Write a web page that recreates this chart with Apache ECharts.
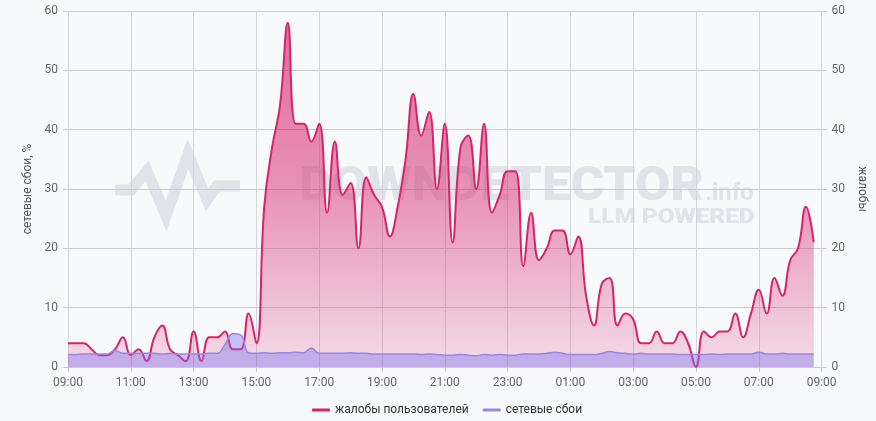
<!DOCTYPE html>
<html>
<head>
<meta charset="utf-8">
<script src="https://cdn.jsdelivr.net/npm/echarts@6/dist/echarts.min.js"></script>
<style>
html,body{margin:0;padding:0;background:#f8f9fb;}
#c{width:876px;height:421px;}
</style>
</head>
<body>
<div id="c"></div>
<script>
// 15-minute time slots from 09:00 to 09:00 next day
const timeLabels = [];
for (let i = 0; i <= 96; i++) {
  const m = (9 * 60 + i * 15) % (24 * 60);
  timeLabels.push(String(Math.floor(m / 60)).padStart(2, '0') + ':' + String(m % 60).padStart(2, '0'));
}
const yTicks = [0, 10, 20, 30, 40, 50, 60];
const seriesNames = ['жалобы пользователей', 'сетевые сбои'];

// жалобы пользователей (user complaints), 09:00 .. 08:45
const complaints = [
  4, 4, 4, 3, 2, 2, 3, 5, 2, 3, 1, 5, 7, 3, 2, 1,
  6, 1, 5, 5, 6, 3, 3, 9, 4, 27, 37, 44, 58, 41, 41, 38,
  41, 26, 38, 29, 31, 20, 32, 29, 27, 22, 27, 35, 46, 39, 43, 30,
  41, 21, 37, 39, 30, 41, 26, 29, 33, 33, 17, 26, 18, 20, 23, 23,
  19, 22, 12, 7, 14, 15, 7, 9, 8, 4, 4, 6, 4, 4, 6, 4,
  0, 6, 5, 6, 6, 9, 5, 9, 13, 9, 15, 12, 18, 20, 27, 21
];
// сетевые сбои (network failures, %)
const outages = [
  2.1, 2.1, 2.2, 2.2, 2.2, 2.2, 2.8, 2.3, 2.3, 2.3, 2.3, 2.3, 2.2, 2.3, 2.2, 2.2,
  2.2, 2.2, 2.3, 2.3, 3.8, 5.6, 5.4, 2.4, 2.3, 2.4, 2.3, 2.4, 2.4, 2.5, 2.4, 3.2,
  2.3, 2.3, 2.3, 2.3, 2.4, 2.3, 2.3, 2.2, 2.2, 2.2, 2.2, 2.2, 2.2, 2.1, 2.2, 2.1,
  2.0, 2.0, 2.1, 2.0, 1.9, 2.1, 2.0, 2.1, 2.0, 2.0, 2.2, 2.2, 2.2, 2.3, 2.5, 2.3,
  2.1, 2.1, 2.1, 2.1, 2.3, 2.6, 2.4, 2.3, 2.2, 2.3, 2.2, 2.2, 2.2, 2.2, 2.1, 2.1,
  2.1, 2.1, 2.2, 2.1, 2.2, 2.2, 2.2, 2.2, 2.5, 2.2, 2.2, 2.3, 2.2, 2.2, 2.2, 2.2
];

const PINK = '#d6246a';
const PURPLE = '#9a84e6';
const WM = '#e1e3e8';

const chart = echarts.init(document.getElementById('c'));
chart.setOption({
  backgroundColor: '#f8f9fb',
  animation: false,
  textStyle: { fontFamily: 'Roboto, "DejaVu Sans", sans-serif' },
  graphic: [
    {
      type: 'polyline', z: -10, silent: true,
      shape: { points: [[115,190],[131,190],[147,171],[166,216],[188,154],[207,200],[217,186],[240,186]] },
      style: { stroke: WM, lineWidth: 11, fill: null, lineJoin: 'miter' }
    },
    {
      type: 'text', z: -10, silent: true, x: 299, y: 164, scaleX: 1.065,
      style: { text: 'DOWNDETECTOR', fill: WM, font: '900 48px Roboto, sans-serif' }
    },
    {
      type: 'text', z: -10, silent: true, x: 705, y: 182,
      style: { text: '.info', fill: WM, font: 'bold 24px Roboto, sans-serif' }
    },
    {
      type: 'text', z: -10, silent: true, x: 588, y: 207, scaleX: 1.16,
      style: { text: 'LLM POWERED', fill: WM, font: '900 21px Roboto, sans-serif' }
    }
  ],
  legend: {
    bottom: 0,
    left: 307,
    itemWidth: 18,
    itemHeight: 3,
    itemGap: 14,
    icon: 'roundRect',
    textStyle: { color: '#333', fontSize: 12 },
    data: [
      { name: seriesNames[0], itemStyle: { color: PINK } },
      { name: seriesNames[1], itemStyle: { color: PURPLE } }
    ]
  },
  grid: { left: 68, right: 52, top: 11, bottom: 54, containLabel: false },
  xAxis: {
    type: 'category',
    data: timeLabels,
    boundaryGap: false,
    axisLine: { lineStyle: { color: '#c8cad0' } },
    axisTick: { interval: 7, length: 5, lineStyle: { color: '#c8cad0' } },
    axisLabel: { interval: 7, color: '#666', fontSize: 12, margin: 10 },
    splitLine: { show: true, interval: 7, lineStyle: { color: '#d3d5da' } }
  },
  yAxis: [
    {
      type: 'value', min: 0, max: 60, interval: 10, position: 'left',
      name: 'сетевые сбои, %', nameLocation: 'middle', nameGap: 34, nameRotate: 90,
      nameTextStyle: { color: '#555', fontSize: 12 },
      axisLine: { show: false },
      axisTick: { show: true, length: 5, lineStyle: { color: '#c8cad0' } },
      axisLabel: { color: '#666', fontSize: 12, margin: 10, formatter: v => yTicks.includes(v) ? String(v) : '' },
      splitLine: { lineStyle: { color: '#c8cad0' } }
    },
    {
      type: 'value', min: 0, max: 60, interval: 10, position: 'right',
      name: 'жалобы', nameLocation: 'middle', nameGap: 30, nameRotate: -90,
      nameTextStyle: { color: '#555', fontSize: 12 },
      axisLine: { show: false },
      axisTick: { show: true, length: 5, lineStyle: { color: '#c8cad0' } },
      axisLabel: { color: '#666', fontSize: 12, margin: 10 },
      splitLine: { show: false }
    }
  ],
  series: [
    {
      name: seriesNames[0],
      type: 'line',
      yAxisIndex: 1,
      data: complaints,
      smooth: 0.45,
      symbol: 'none',
      lineStyle: { color: PINK, width: 2 },
      itemStyle: { color: PINK },
      areaStyle: {
        color: new echarts.graphic.LinearGradient(0, 0, 0, 1, [
          { offset: 0, color: 'rgba(214,36,106,0.95)' },
          { offset: 0.5, color: 'rgba(214,36,106,0.68)' },
          { offset: 1, color: 'rgba(214,36,106,0.2)' }
        ])
      },
      z: 2
    },
    {
      name: seriesNames[1],
      type: 'line',
      yAxisIndex: 0,
      data: outages,
      smooth: 0.45,
      symbol: 'none',
      lineStyle: { color: PURPLE, width: 1.5 },
      itemStyle: { color: PURPLE },
      areaStyle: { color: 'rgba(125,110,240,0.58)' },
      z: 3
    }
  ]
});
</script>
</body>
</html>
